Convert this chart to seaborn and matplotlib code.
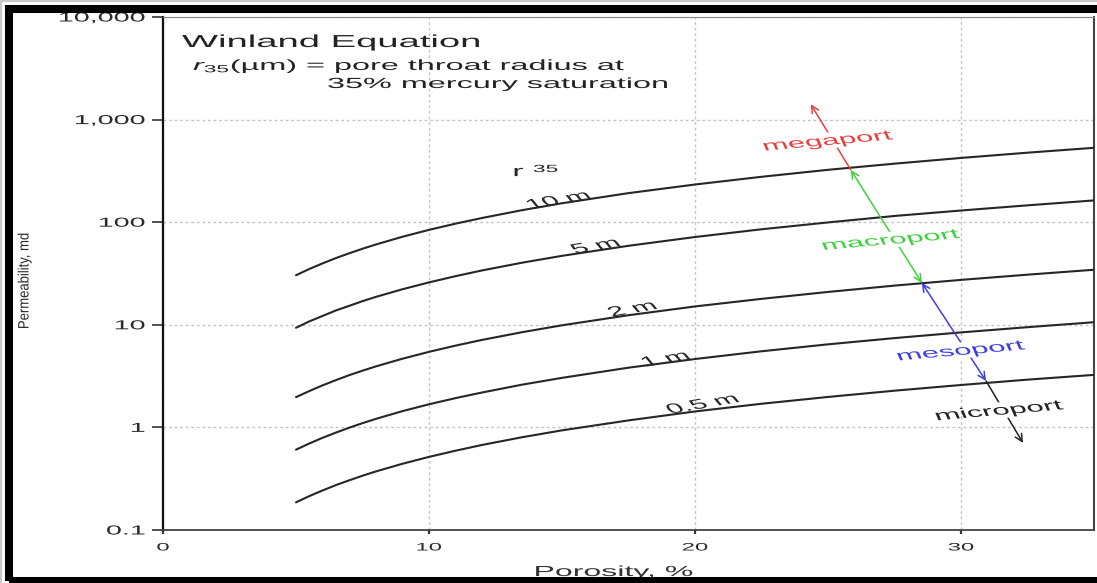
import matplotlib
matplotlib.use("Agg")
import matplotlib.pyplot as plt
import numpy as np
import pandas as pd
import seaborn as sns
from matplotlib.patheffects import AbstractPathEffect
from matplotlib.transforms import Affine2D
from matplotlib.patches import Rectangle
from matplotlib.ticker import NullLocator

# ---------------- data ----------------
porosity = [5, 5.5, 6, 6.5, 7, 7.5, 8, 9, 10, 11, 12, 13.5, 15, 17.5, 20,
            22.5, 25, 27.5, 30, 32.5, 35]
k_r10 = [30.4, 35.0, 39.7, 44.7, 49.8, 55.1, 60.6, 72.1, 84.2, 96.8, 110, 131,
         153, 192, 233, 277, 324, 372, 423, 476, 531]
k_r5 = [9.35, 10.8, 12.2, 13.8, 15.3, 17.0, 18.7, 22.2, 25.9, 29.8, 33.9, 40.3,
        47.0, 58.9, 71.7, 85.3, 99.5, 115, 130, 146, 163]
k_r2 = [1.97, 2.26, 2.57, 2.89, 3.23, 3.57, 3.93, 4.67, 5.45, 6.27, 7.13, 8.47,
        9.89, 12.4, 15.1, 17.9, 20.9, 24.1, 27.4, 30.8, 34.4]
k_r1 = [0.606, 0.697, 0.792, 0.890, 0.993, 1.10, 1.21, 1.44, 1.68, 1.93, 2.19,
        2.61, 3.04, 3.82, 4.64, 5.52, 6.45, 7.42, 8.43, 9.48, 10.6]
k_r05 = [0.186, 0.214, 0.243, 0.274, 0.305, 0.338, 0.372, 0.442, 0.516, 0.593,
         0.675, 0.802, 0.936, 1.17, 1.43, 1.70, 1.98, 2.28, 2.59, 2.92, 3.25]

curve_names = ["10 m", "5 m", "2 m", "1 m", "0.5 m"]
curve_label_x = [14.87, 16.26, 17.65, 18.89, 20.29]
curve_label_y = [164, 58.6, 14.3, 4.64, 1.69]

port_names = ["megaport", "macroport", "mesoport", "microport"]
port_colors = ["#e8403f", "#3fd13f", "#3f3fe0", "#222222"]
port_x = [24.99, 27.36, 29.99, 31.43]
port_y = [618, 67, 5.56, 1.45]

arrow_x = [24.35, 25.86, 28.53, 30.94, 32.33]
arrow_y = [1413, 323, 25.6, 2.84, 0.706]

x_ticks = [0, 10, 20, 30]
x_tick_labels = ["0", "10", "20", "30"]
y_ticks = [0.1, 1, 10, 100, 1000, 10000]
y_tick_labels = ["0.1", "1", "10", "100", "1,000", "10,000"]

# ---------------- helpers ----------------
SX = 2.2


class HStretch(AbstractPathEffect):
    """Draw text glyphs stretched horizontally (the reference text is wide)."""

    def __init__(self, sx=SX, anchor="center"):
        super().__init__(offset=(0.0, 0.0))
        self.sx = sx
        self.anchor = anchor

    def draw_path(self, renderer, gc, tpath, affine, rgbFace=None):
        if tpath is None or len(tpath.vertices) == 0:
            return
        ext = affine.transform_path(tpath).get_extents()
        if self.anchor == "left":
            a = affine.get_matrix()[0, 2]
        elif self.anchor == "right":
            a = ext.x1
        else:
            a = 0.5 * (ext.x0 + ext.x1)
        t = affine + Affine2D().translate(-a, 0).scale(self.sx, 1.0).translate(a, 0)
        renderer.draw_path(gc, tpath, t, rgbFace)


# ---------------- style ----------------
sns.set_theme(style="white")
plt.rcParams["font.family"] = ["Liberation Sans", "DejaVu Sans"]
plt.rcParams["mathtext.fontset"] = "custom"
plt.rcParams["mathtext.rm"] = "Liberation Sans"
plt.rcParams["mathtext.it"] = "Liberation Sans:italic"
plt.rcParams["mathtext.bf"] = "Liberation Sans:bold"

W, H = 1097, 583
fig = plt.figure(figsize=(W / 100, H / 100), dpi=100, facecolor="white")
ax = fig.add_axes([163 / W, 1 - 530 / H, (1094 - 163) / W, 513 / H])
ax.set_facecolor("white")

rows = []
for name, ks in zip(curve_names, [k_r10, k_r5, k_r2, k_r1, k_r05]):
    for p, k in zip(porosity, ks):
        rows.append({"porosity": p, "perm": k, "r35": name})
df = pd.DataFrame(rows)

sns.lineplot(data=df, x="porosity", y="perm", hue="r35", palette=["#262626"] * 5,
             legend=False, linewidth=1.5, ax=ax, zorder=3)

ax.set_yscale("log")
ax.set_xlim(0, 35)
ax.set_ylim(0.1, 10000)
ax.set_xticks(x_ticks, x_tick_labels)
ax.set_yticks(y_ticks, y_tick_labels)
ax.yaxis.set_minor_locator(NullLocator())
ax.xaxis.set_minor_locator(NullLocator())
ax.set_xlabel("")
ax.set_ylabel("")

ax.set_axisbelow(True)
ax.grid(True, which="major", color="#c4c4c4", linestyle=(0, (2, 2)), linewidth=1.0)

for side, col, lw in [("left", "#111111", 1.6), ("bottom", "#444444", 1.3),
                      ("top", "#888888", 0.8), ("right", "#444444", 1.5)]:
    ax.spines[side].set_visible(True)
    ax.spines[side].set_color(col)
    ax.spines[side].set_linewidth(lw)

ax.tick_params(axis="y", which="major", length=8, width=1.2, color="#333333",
               pad=5, labelsize=9.4, labelcolor="#2a2a2a", left=True)
ax.tick_params(axis="x", which="major", length=3, width=1.6, color="#333333",
               pad=6, labelsize=7.8, labelcolor="#2a2a2a", bottom=True)

for lab in ax.get_yticklabels():
    lab.set_path_effects([HStretch(SX, "right")])
for lab in ax.get_xticklabels():
    lab.set_path_effects([HStretch(SX, "center")])

# curve labels
for name, lx, ly in zip(curve_names, curve_label_x, curve_label_y):
    ax.text(lx, ly, name, fontsize=9.9, color="#262626", rotation=21,
            ha="center", va="center", zorder=4,
            path_effects=[HStretch(SX, "center")])
ax.text(13.36, 308, "r", fontsize=11, color="#262626", ha="center", va="center",
        path_effects=[HStretch(SX, "center")])
ax.text(14.38, 330, "35", fontsize=7.5, color="#262626", ha="center", va="center",
        path_effects=[HStretch(SX, "center")])

# pore-type arrows
arrow_specs = [(0, 1, "->"), (1, 2, "<->"), (2, 3, "<->"), (4, 3, "->")]
for (a, b, style), col in zip(arrow_specs, port_colors):
    ax.annotate("", xy=(arrow_x[a], arrow_y[a]), xytext=(arrow_x[b], arrow_y[b]),
                arrowprops=dict(arrowstyle=style, color=col, lw=1.1,
                                shrinkA=0, shrinkB=0, mutation_scale=13),
                zorder=5)

for name, col, px, py in zip(port_names, port_colors, port_x, port_y):
    ax.text(px, py, name, fontsize=10.2, color=col, rotation=11,
            ha="center", va="center", zorder=6,
            bbox=dict(facecolor="white", edgecolor="none", pad=1.0),
            path_effects=[HStretch(SX, "center")])

# header text
fig.text(182 / W, 1 - 47 / H, "Winland Equation", fontsize=12.5, color="#222222",
         ha="left", va="baseline", path_effects=[HStretch(SX, "left")])
fig.text(193 / W, 1 - 70 / H, r"$r_{35}$(µm) = pore throat radius at", fontsize=10.6,
         color="#222222", ha="left", va="baseline", path_effects=[HStretch(SX, "left")])
fig.text(327 / W, 1 - 88 / H, "35% mercury saturation", fontsize=10.6,
         color="#222222", ha="left", va="baseline", path_effects=[HStretch(SX, "left")])

# axis titles
fig.text(614 / W, 1 - 576 / H, "Porosity, %", fontsize=10.5, color="#333333",
         ha="center", va="baseline", path_effects=[HStretch(SX, "center")])
fig.text(25 / W, 1 - 281 / H, "Permeability, md", fontsize=9.4, color="#2a2a2a",
         ha="center", va="center", rotation=90,
         path_effects=[HStretch(1.15, "center")])

# picture frame (right side cut off)
outer = Rectangle((1.2 / W, -0.05), 1.2, 1.05 - 1.2 / H, transform=fig.transFigure,
                  fill=False, edgecolor="#c8c8c8", linewidth=1.6, zorder=9)
fig.add_artist(outer)
frame = Rectangle((9 / W, 1 - 581 / H), (1130 - 9) / W, (581 - 8.5) / H,
                  transform=fig.transFigure, fill=False, edgecolor="black",
                  linewidth=5.8, zorder=10)
fig.add_artist(frame)

fig.savefig("out.png", dpi=100, facecolor="white")
